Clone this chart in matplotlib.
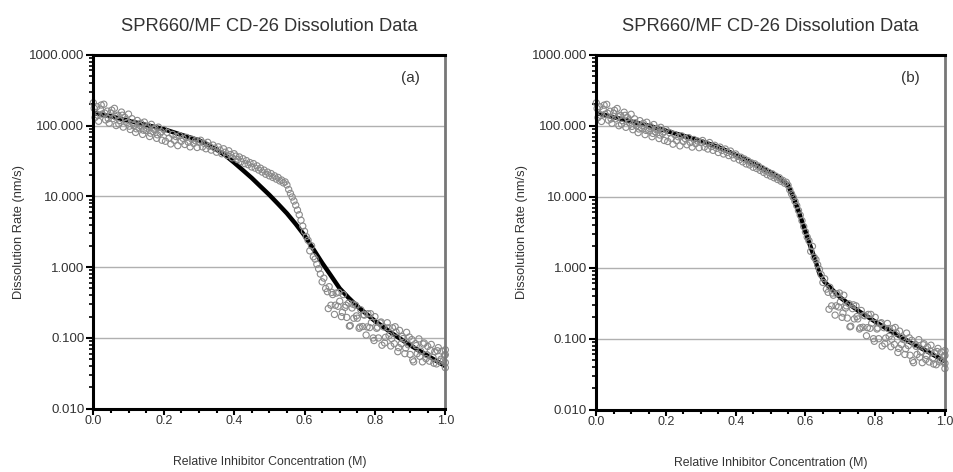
import matplotlib
matplotlib.use("Agg")
import matplotlib.pyplot as plt
from matplotlib.ticker import FixedLocator, FuncFormatter, LogLocator, NullFormatter, MultipleLocator

plt.rcParams['font.family'] = ['Liberation Sans', 'DejaVu Sans']

# ---------------- data ----------------
conc = [
    0.000, 0.005, 0.010, 0.015, 0.020, 0.025, 0.030, 0.035, 0.040, 0.045,
    0.050, 0.055, 0.060, 0.065, 0.070, 0.075, 0.080, 0.085, 0.090, 0.095,
    0.100, 0.105, 0.110, 0.115, 0.120, 0.125, 0.130, 0.135, 0.140, 0.145,
    0.150, 0.155, 0.160, 0.165, 0.170, 0.175, 0.180, 0.185, 0.190, 0.195,
    0.200, 0.205, 0.210, 0.215, 0.220, 0.225, 0.230, 0.235, 0.240, 0.245,
    0.250, 0.255, 0.260, 0.265, 0.270, 0.275, 0.280, 0.285, 0.290, 0.295,
    0.300, 0.305, 0.310, 0.315, 0.320, 0.325, 0.330, 0.335, 0.340, 0.345,
    0.350, 0.355, 0.360, 0.365, 0.370, 0.375, 0.380, 0.385, 0.390, 0.395,
    0.400, 0.405, 0.410, 0.415, 0.420, 0.425, 0.430, 0.435, 0.440, 0.445,
    0.450, 0.455, 0.460, 0.465, 0.470, 0.475, 0.480, 0.485, 0.490, 0.495,
    0.500, 0.505, 0.510, 0.515, 0.520, 0.525, 0.530, 0.535, 0.540, 0.545,
    0.550, 0.555, 0.560, 0.565, 0.570, 0.575, 0.580, 0.585, 0.590, 0.595,
    0.600, 0.605, 0.610, 0.615, 0.620, 0.625, 0.630, 0.635, 0.640, 0.645,
    0.650, 0.655, 0.660, 0.665, 0.670, 0.675, 0.680, 0.685, 0.690, 0.695,
    0.700, 0.705, 0.710, 0.715, 0.720, 0.725, 0.730, 0.735, 0.740, 0.745,
    0.750, 0.755, 0.760, 0.765, 0.770, 0.775, 0.780, 0.785, 0.790, 0.795,
    0.800, 0.805, 0.810, 0.815, 0.820, 0.825, 0.830, 0.835, 0.840, 0.845,
    0.850, 0.855, 0.860, 0.865, 0.870, 0.875, 0.880, 0.885, 0.890, 0.895,
    0.900, 0.905, 0.910, 0.915, 0.920, 0.925, 0.930, 0.935, 0.940, 0.945,
    0.950, 0.955, 0.960, 0.965, 0.970, 0.975, 0.980, 0.985, 0.990, 0.995,
    1.000, 1.000, 1.000, 1.000,
]
rate_measured = [
    210, 130, 185, 115, 170, 145, 200, 120, 160, 108,
    150, 125, 175, 100, 140, 118, 155, 95, 130, 110,
    145, 88, 125, 100, 80, 118, 92, 108, 75, 112,
    85, 98, 70, 104, 82, 92, 66, 95, 78, 62,
    88, 60, 80, 66, 55, 75, 62, 70, 52, 72,
    60, 66, 54, 68, 58, 50, 64, 56, 61, 49,
    58, 62, 50, 56, 47, 58, 51, 45, 53, 48,
    42, 50, 45, 40, 47, 42, 38, 44, 39, 35,
    40, 37, 33, 36, 31, 34, 29, 32, 28, 30,
    26, 29, 25, 27, 23.5, 25, 22, 23.5, 20.5, 22,
    19.5, 21, 18.5, 19.5, 17.5, 18.5, 16.5, 17, 15.5, 16,
    14.5, 12.5, 11.0, 9.8, 8.6, 7.5, 6.4, 5.5, 4.6, 3.8,
    3.2, 2.7, 2.4, 1.7, 2.0, 1.4, 1.3, 1.1, 0.95, 0.80,
    0.62, 0.70, 0.50, 0.45, 0.53, 0.29, 0.41, 0.215, 0.43, 0.28,
    0.33, 0.20, 0.41, 0.27, 0.195, 0.31, 0.15, 0.265, 0.19, 0.29,
    0.19, 0.137, 0.25, 0.145, 0.21, 0.11, 0.22, 0.14, 0.165, 0.10,
    0.20, 0.137, 0.10, 0.163, 0.079, 0.143, 0.102, 0.164, 0.108, 0.077,
    0.139, 0.083, 0.121, 0.064, 0.128, 0.083, 0.098, 0.060, 0.120, 0.080,
    0.0585, 0.095, 0.046, 0.083, 0.060, 0.097, 0.065, 0.046, 0.085, 0.051,
    0.076, 0.047, 0.081, 0.053, 0.064, 0.043, 0.073, 0.047, 0.065, 0.048,
    0.068, 0.058, 0.045, 0.038,
]

# repeat measurements (second pass)
conc_repeat = [
    0.0025, 0.0125, 0.0225, 0.0325, 0.0425, 0.0525, 0.0625, 0.0725, 0.0825, 0.0925,
    0.1025, 0.1125, 0.1225, 0.1325, 0.1425, 0.1525, 0.1625, 0.1725, 0.1825, 0.1925,
    0.6675, 0.6775, 0.6875, 0.6975, 0.7075, 0.7175, 0.7275, 0.7375, 0.7475, 0.7575,
    0.7675, 0.7775, 0.7875, 0.7975, 0.8075, 0.8175, 0.8275, 0.8375, 0.8475, 0.8575,
    0.8675, 0.8775, 0.8875, 0.8975, 0.9075, 0.9175, 0.9275, 0.9375, 0.9475, 0.9575,
    0.9675, 0.9775, 0.9875, 0.9975,
]
rate_repeat = [
    175, 140, 195, 150, 125, 165, 135, 105, 140, 120,
    98, 110, 90, 100, 86, 92, 78, 88, 74, 82,
    0.26, 0.44, 0.29, 0.44, 0.23, 0.29, 0.147, 0.30, 0.205, 0.143,
    0.214, 0.143, 0.22, 0.092, 0.142, 0.168, 0.085, 0.139, 0.098, 0.144,
    0.073, 0.105, 0.072, 0.103, 0.049, 0.078, 0.055, 0.082, 0.058, 0.067,
    0.044, 0.066, 0.050, 0.057,
]

fit_a_conc = [0.00, 0.05, 0.10, 0.15, 0.20, 0.25, 0.30, 0.325, 0.35, 0.375,
              0.40, 0.425, 0.45, 0.475, 0.50, 0.525, 0.55, 0.575, 0.60, 0.625,
              0.65, 0.675, 0.70, 0.725, 0.75, 0.775, 0.80, 0.85, 0.90, 0.95, 1.00]
fit_a_rate = [151, 135, 117, 102, 89, 74, 62, 53.7, 45.7, 38,
              30, 23.4, 18.2, 13.8, 10.5, 7.8, 5.75, 4.07, 2.8, 1.8,
              1.15, 0.76, 0.50, 0.37, 0.28, 0.22, 0.174, 0.115, 0.079, 0.056, 0.040]

fit_b_conc = [0.00, 0.05, 0.10, 0.15, 0.20, 0.25, 0.30, 0.35, 0.40, 0.45,
              0.50, 0.525, 0.55, 0.565, 0.58, 0.595, 0.61, 0.625, 0.64, 0.655,
              0.675, 0.70, 0.75, 0.80, 0.85, 0.90, 0.95, 1.00]
fit_b_rate = [151, 132, 115, 100, 85, 72, 61, 50, 39, 29.5,
              22, 18.5, 14.5, 10.0, 6.3, 3.8, 2.3, 1.41, 0.83, 0.63,
              0.50, 0.38, 0.25, 0.174, 0.123, 0.089, 0.066, 0.048]

title_text = "SPR660/MF CD-26 Dissolution Data"
xlabel_text = "Relative Inhibitor Concentration (M)"
ylabel_text = "Dissolution Rate (nm/s)"
panel_tags = ["(a)", "(b)"]
y_ticks = [0.01, 0.1, 1, 10, 100, 1000]
x_ticks = [0.0, 0.2, 0.4, 0.6, 0.8, 1.0]

# ---------------- figure ----------------
fig = plt.figure(figsize=(9.54, 4.72), dpi=100)
txt = '#333333'
panels = [
    ([0.0978, 0.134, 0.369, 0.750], fit_a_conc, fit_a_rate),
    ([0.6250, 0.132, 0.3655, 0.752], fit_b_conc, fit_b_rate),
]

for i, (rect, fx, fy) in enumerate(panels):
    ax = fig.add_axes(rect)
    ax.set_yscale('log')
    ax.set_xlim(0, 1)
    ax.set_ylim(0.01, 1000)
    ax.yaxis.set_major_locator(FixedLocator(y_ticks))
    ax.yaxis.set_major_formatter(FuncFormatter(lambda v, p: f"{v:.3f}"))
    ax.yaxis.set_minor_locator(LogLocator(base=10, subs=range(2, 10), numticks=20))
    ax.yaxis.set_minor_formatter(NullFormatter())
    ax.xaxis.set_major_locator(FixedLocator(x_ticks))
    ax.xaxis.set_major_formatter(FuncFormatter(lambda v, p: f"{v:.1f}"))
    ax.xaxis.set_minor_locator(MultipleLocator(0.05))

    ax.grid(True, which='major', axis='y', color='#b0b0b0', lw=1.0, zorder=0)

    ax.plot(fx, fy, color='black', lw=3.2, zorder=2, solid_capstyle='butt',
            solid_joinstyle='round')
    for cx, ry in ((conc, rate_measured), (conc_repeat, rate_repeat)):
        ax.scatter(cx, ry, s=20, facecolors='none', edgecolors='#8a8a8a',
                   linewidths=0.8, zorder=3, clip_on=False)

    for side in ['left', 'bottom', 'top']:
        ax.spines[side].set_color('black')
        ax.spines[side].set_linewidth(2.2)
    ax.spines['right'].set_color('#777777')
    ax.spines['right'].set_linewidth(2.0)
    for s in ax.spines.values():
        s.set_zorder(4)

    ax.tick_params(axis='y', which='major', direction='out', length=5, width=1.5,
                   labelsize=9.5, labelcolor=txt, pad=1.5, right=False)
    ax.tick_params(axis='y', which='minor', direction='out', length=3, width=1.2, right=False)
    ax.tick_params(axis='x', which='major', direction='out', length=4, width=1.5,
                   labelsize=9.0, labelcolor=txt, pad=0.5, top=False)
    ax.tick_params(axis='x', which='minor', direction='out', length=3, width=1.5, top=False)

    ax.set_xlabel(xlabel_text, fontsize=8.8, color=txt, labelpad=21)
    ax.set_ylabel(ylabel_text, fontsize=9.3, color=txt, labelpad=3)
    ax.set_title(title_text, fontsize=13.2, color=txt, pad=17)
    ax.text(0.929, 0.934, panel_tags[i], transform=ax.transAxes, ha='right', va='center',
            fontsize=11, color=txt)

fig.savefig('out.png', dpi=100)
